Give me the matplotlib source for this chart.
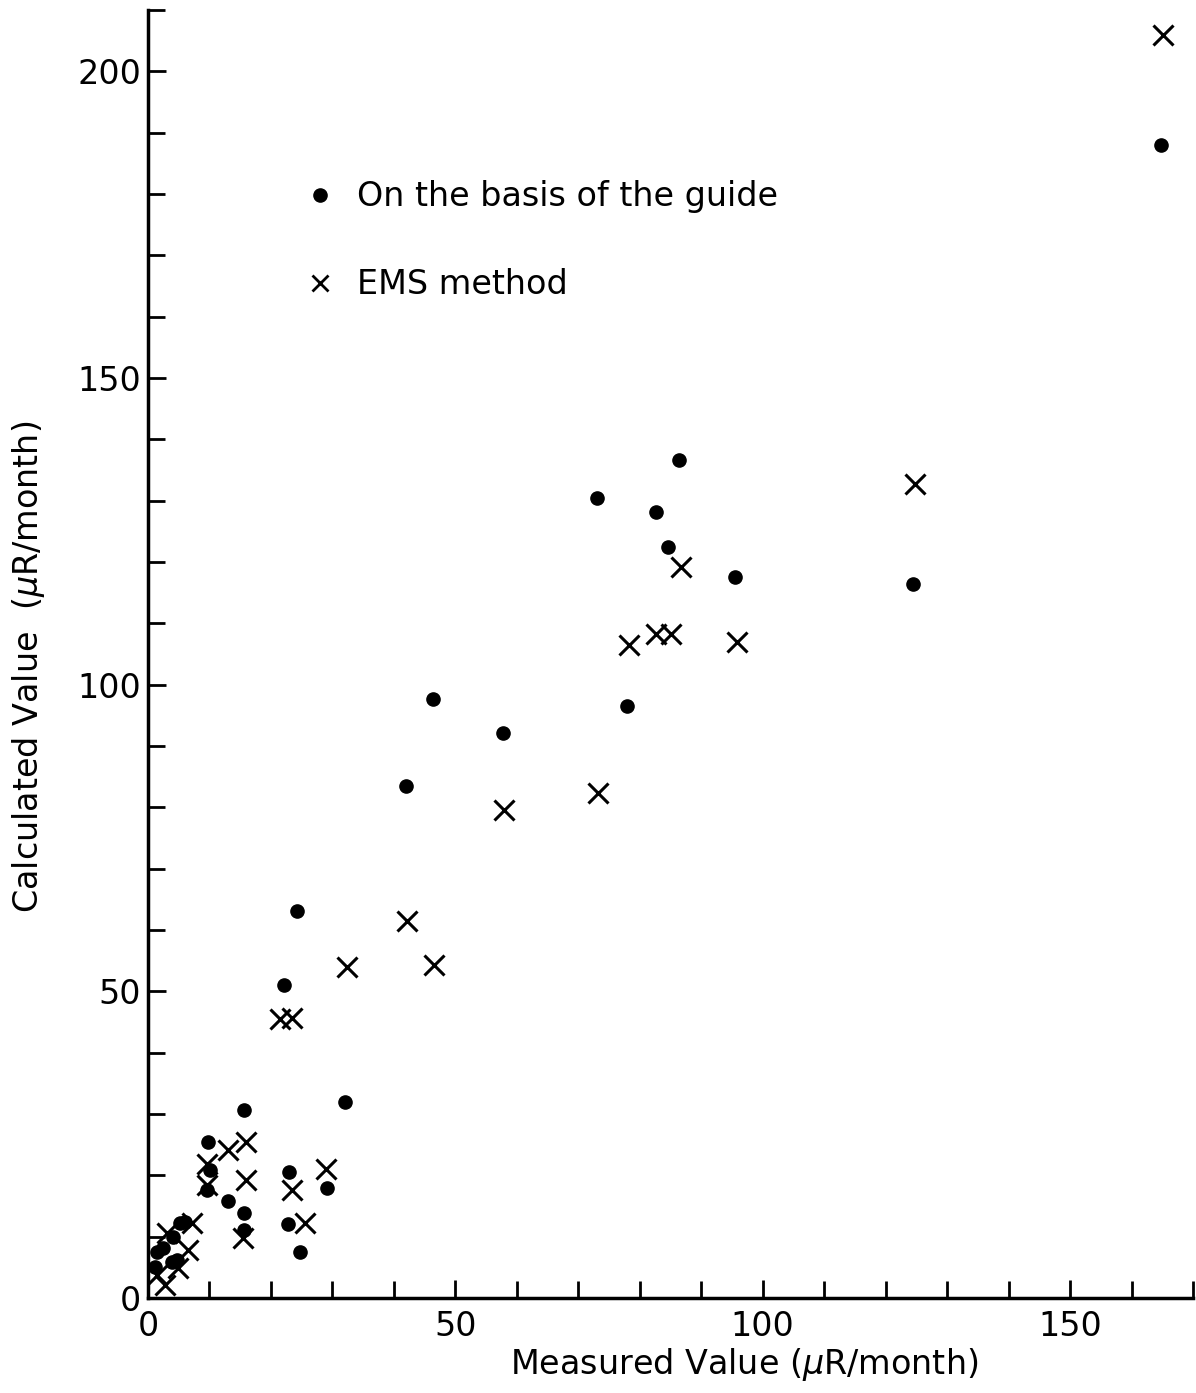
import matplotlib
matplotlib.use("Agg")
import matplotlib.pyplot as plt
from matplotlib.lines import Line2D
from matplotlib.ticker import MultipleLocator

# Guide-based calculation (dots)
guide_x = [164.8, 124.5, 95.5, 86.4, 84.6, 82.6, 77.9, 73.1, 57.8, 46.3, 41.9,
           32.1, 29.2, 24.2, 22.1, 22.9, 22.8, 24.7, 15.6, 15.6, 15.6, 13.0,
           9.8, 10.1, 9.6, 5.2, 6.0, 4.1, 1.5, 2.5, 3.9, 4.7, 1.1]
guide_y = [188.0, 116.4, 117.6, 136.6, 122.4, 128.1, 96.6, 130.4, 92.2, 97.7, 83.4,
           31.9, 17.9, 63.1, 51.1, 20.5, 12.0, 7.5, 30.7, 13.8, 11.1, 15.8,
           25.5, 20.8, 17.6, 12.2, 12.4, 9.9, 7.5, 8.1, 5.9, 6.2, 5.0]

# EMS method (crosses)
ems_x = [165.1, 124.8, 95.8, 86.7, 85.1, 82.6, 78.2, 73.2, 58.0, 46.6, 42.2,
         32.3, 29.0, 23.5, 21.4, 23.4, 25.5, 16.0, 16.0, 15.4, 13.1, 9.6, 9.6,
         7.1, 3.1, 6.5, 4.9, 1.5, 2.8]
ems_y = [205.9, 132.7, 107.0, 119.2, 108.3, 108.3, 106.5, 82.3, 79.5, 54.3, 61.5,
         54.0, 21.0, 45.7, 45.5, 17.6, 12.2, 25.4, 19.2, 9.8, 24.2, 21.9, 18.4,
         12.2, 10.6, 7.8, 4.9, 3.7, 2.1]

xticks = [0, 50, 100, 150]
yticks = [0, 50, 100, 150, 200]

plt.rcParams['font.family'] = ['DejaVu Sans']

fig = plt.figure(figsize=(11.96, 13.93), dpi=100)
ax = fig.add_axes([0.1237, 0.0682, 0.8738, 0.9246])

ax.plot(guide_x, guide_y, 'o', color='black', markersize=9.5, linestyle='none')
ax.plot(ems_x, ems_y, 'x', color='black', markersize=15, markeredgewidth=2.2,
        linestyle='none')

ax.set_xlim(0, 170)
ax.set_ylim(0, 210)
ax.set_xticks(xticks)
ax.set_yticks(yticks)
ax.xaxis.set_minor_locator(MultipleLocator(10))
ax.yaxis.set_minor_locator(MultipleLocator(10))
ax.tick_params(which='major', direction='in', length=13, width=2, labelsize=24)
ax.tick_params(which='minor', direction='in', length=12, width=2)
ax.tick_params(axis='x', which='major', pad=9)
ax.tick_params(axis='y', which='major', pad=5)

for s in ['top', 'right']:
    ax.spines[s].set_visible(False)
for s in ['left', 'bottom']:
    ax.spines[s].set_linewidth(2.5)

ax.set_xlabel('Measured Value ($\\mu$R/month)', fontsize=24, va='center')
ax.set_ylabel('Calculated Value  ($\\mu$R/month)', fontsize=24, va='center')
ax.xaxis.set_label_coords(0.571, -0.052)
ax.yaxis.set_label_coords(-0.114, 0.49)

handles = [Line2D([], [], marker='o', color='black', linestyle='none', markersize=9.5),
           Line2D([], [], marker='x', color='black', linestyle='none', markersize=12,
                  markeredgewidth=2)]
ax.legend(handles, ['On the basis of the guide', 'EMS method'], frameon=False,
          loc='upper left', bbox_to_anchor=(0.12, 0.891), fontsize=24,
          labelspacing=1.65, handletextpad=0.6, handlelength=1.0)

fig.savefig('out.png', dpi=100)
